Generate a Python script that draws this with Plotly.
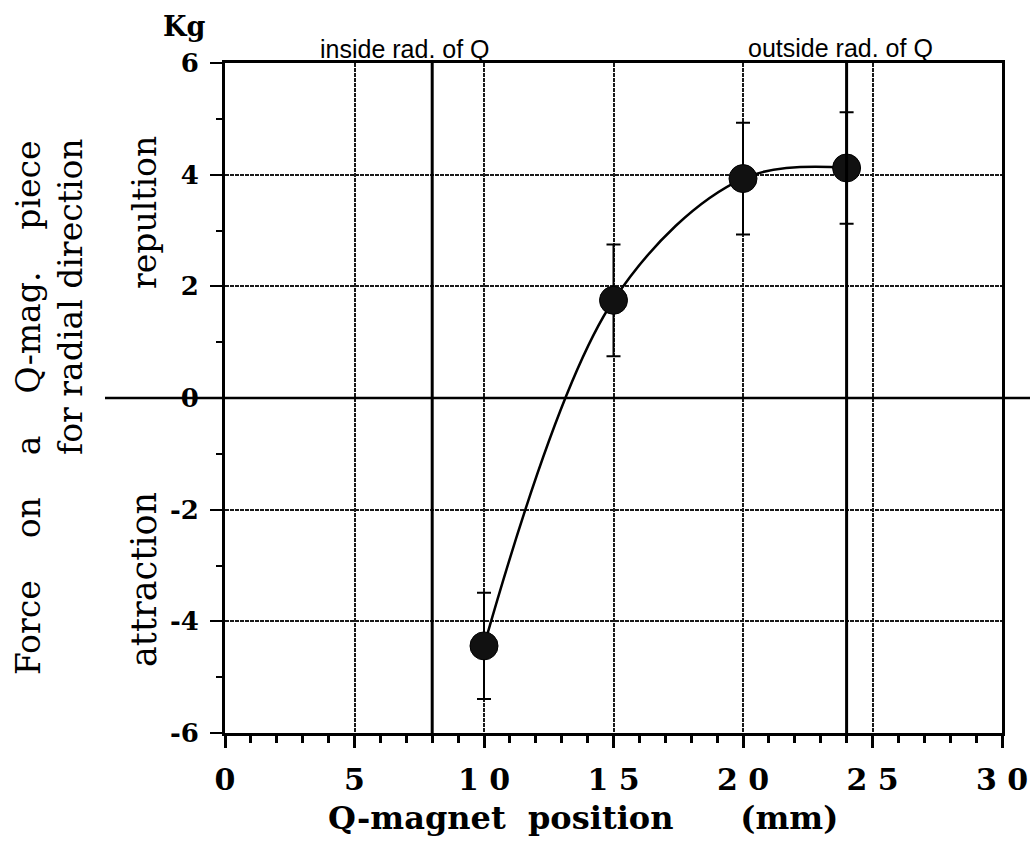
import plotly.graph_objects as go

# ---- data ----
positions = [10, 15, 20, 24]          # Q-magnet position (mm)
force = [-4.44, 1.75, 3.93, 4.12]     # force (Kg)
force_err = [0.95, 1.0, 1.0, 1.0]     # error bar half-length

x_tick_vals = [0, 5, 10, 15, 20, 25, 30]
x_tick_text = ["0", "5", "1 0", "1 5", "2 0", "2 5", "3 0"]
y_tick_vals = [-6, -4, -2, 0, 2, 4, 6]
y_tick_text = ["-6", "-4", "-2", "0", "2", "4", "6"]

marker_lines_x = [8, 24]              # inside / outside radius of Q

W, H = 1030, 844
L, R, T, B = 225, 28, 63, 111
pw, ph = W - L - R, H - T - B

def px(p):  # pixel x -> paper
    return (p - L) / pw

def py(q):  # pixel y -> paper
    return (H - B - q) / ph

SERIF = "DejaVu Serif"
SANS = "Liberation Sans"

fig = go.Figure()
fig.add_trace(go.Scatter(
    x=positions, y=force, mode="lines",
    line=dict(color="black", width=2.5, shape="spline", smoothing=1.0),
    hoverinfo="skip", showlegend=False))
fig.add_trace(go.Scatter(
    x=positions, y=force, mode="markers",
    marker=dict(color="#111111", size=28, line=dict(color="#000", width=1)),
    error_y=dict(type="data", array=force_err, visible=True,
                 color="black", thickness=2, width=7),
    showlegend=False))

shapes = []
for xv in marker_lines_x:
    shapes.append(dict(type="line", xref="x", yref="paper", x0=xv, x1=xv,
                       y0=0, y1=1, line=dict(color="black", width=3), layer="above"))
shapes.append(dict(type="line", xref="paper", yref="y", x0=px(105), x1=px(1030),
                   y0=0, y1=0, line=dict(color="black", width=2.5), layer="above"))

def ann(text, xp, yp, size, family=SERIF, angle=0):
    return dict(text=text, x=px(xp), y=py(yp), xref="paper", yref="paper",
                xanchor="center", yanchor="middle", textangle=angle,
                showarrow=False, font=dict(family=family, size=size, color="black"))

annotations = [
    ann("<b>Kg</b>", 184, 27, 27),
    ann("inside rad. of Q", 405, 49, 25, SANS),
    ann("outside rad. of Q", 840, 48, 25, SANS),
    ann("<b>Q-magnet  position      (mm)</b>", 583, 818, 32),
    ann("Force    on    a    Q-mag.    piece", 28, 408, 33, angle=-90),
    ann("for radial direction", 70, 297, 33, angle=-90),
    ann("repultion", 144, 213, 33, angle=-90),
    ann("attraction", 144, 580, 35, angle=-90),
]

fig.update_layout(
    width=W, height=H,
    margin=dict(l=L, r=R, t=T, b=B, autoexpand=False),
    paper_bgcolor="white", plot_bgcolor="white",
    shapes=shapes, annotations=annotations,
    showlegend=False,
)
fig.update_xaxes(
    range=[0, 30], tickvals=x_tick_vals, ticktext=x_tick_text,
    showline=True, linecolor="black", linewidth=3, mirror=True,
    ticks="outside", ticklen=12, tickwidth=3, tickcolor="black",
    minor=dict(dtick=1, ticks="outside", ticklen=7, tickwidth=3,
               tickcolor="black", showgrid=False),
    showgrid=True, gridcolor="#1a1a1a", gridwidth=2, griddash="4px,1px",
    zeroline=False, ticklabelstandoff=6, automargin=False,
    tickfont=dict(family=SERIF, size=30, color="black", weight="bold"),
)
fig.update_yaxes(
    range=[-6, 6], tickvals=y_tick_vals, ticktext=y_tick_text,
    showline=True, linecolor="black", linewidth=3, mirror=True,
    ticks="outside", ticklen=12, tickwidth=2, tickcolor="black",
    minor=dict(dtick=1, ticks="outside", ticklen=6, tickwidth=2,
               tickcolor="black", showgrid=False),
    showgrid=True, gridcolor="#1a1a1a", gridwidth=2, griddash="4px,1px",
    zeroline=False, ticklabelstandoff=6, automargin=False,
    tickfont=dict(family=SERIF, size=26, color="black", weight="bold"),
)

fig.write_html("out.html", config={"displayModeBar": False},
               post_script="document.body.style.margin='0px';")
